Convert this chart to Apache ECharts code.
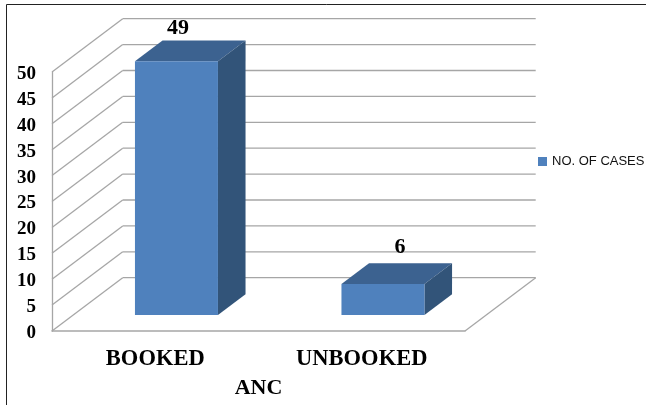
<!DOCTYPE html>
<html>
<head>
<meta charset="utf-8">
<style>
  html, body { margin: 0; padding: 0; background: #fff; }
  #chart { width: 646px; height: 405px; }
</style>
<script src="https://cdn.jsdelivr.net/npm/echarts@6/dist/echarts.min.js"></script>
</head>
<body>
<div id="chart"></div>
<script>
const categories = ['BOOKED', 'UNBOOKED']
const cases = [49, 6]
const yTicks = [0, 5, 10, 15, 20, 25, 30, 35, 40, 45, 50]

const serif = '"Liberation Serif", "Times New Roman", serif'
const gridColor = '#a6a6a6'

// fake 3d: how far the back wall sits from the axis plane, in pixels
const wallDepth = [70.7, -53.3]
const barStart = 0.3
const barDepth = 0.39
const barWidth = 83

function line(x1, y1, x2, y2) {
  return {
    type: 'line',
    shape: { x1, y1, x2, y2 },
    style: { stroke: gridColor, lineWidth: 1.3 },
  }
}

function renderWall(params, api) {
  const cs = params.coordSys
  const y = api.coord([0, api.value(1)])[1]
  const backX = cs.x + wallDepth[0]
  const backY = y + wallDepth[1]
  const children = [
    line(cs.x, y, backX, backY),
    line(backX, backY, cs.x + cs.width + wallDepth[0], backY),
  ]
  if (api.value(1) === 0) {
    children.push(line(cs.x + cs.width, y, cs.x + cs.width + wallDepth[0], backY))
  }
  return { type: 'group', children }
}

// the "49" label sits nearer the front of its bar than the "6" one
const labelShift = [[1.5, -33], [17, -37]]

function renderBar(params, api) {
  const i = api.value(0)
  const top = api.coord([i, api.value(1)])
  const base = api.coord([i, 0])
  const dx = wallDepth[0] * barStart
  const dy = wallDepth[1] * barStart
  const sx = wallDepth[0] * barDepth
  const sy = wallDepth[1] * barDepth
  const l = top[0] - barWidth / 2 + dx
  const r = l + barWidth
  const t = top[1] + dy
  const b = base[1] + dy
  return {
    type: 'group',
    children: [
      {
        type: 'polygon',
        shape: { points: [[l, t], [r, t], [r + sx, t + sy], [l + sx, t + sy]] },
        style: { fill: '#3c6290' },
      },
      {
        type: 'polygon',
        shape: { points: [[r, t], [r + sx, t + sy], [r + sx, b + sy], [r, b]] },
        style: { fill: '#325479' },
      },
      {
        type: 'rect',
        shape: { x: l, y: t, width: barWidth, height: b - t },
        style: { fill: '#4f81bd' },
      },
      {
        type: 'text',
        style: {
          x: (l + r) / 2 + labelShift[i][0],
          y: t + labelShift[i][1],
          text: String(api.value(1)),
          font: 'bold 22px ' + serif,
          fill: '#000',
          align: 'center',
          verticalAlign: 'middle',
        },
      },
    ],
  }
}

const chart = echarts.init(document.getElementById('chart'))

chart.setOption({
  animation: false,
  backgroundColor: '#fff',
  grid: { left: 52, top: 72, width: 413, height: 259, outerBoundsMode: 'none' },
  legend: {
    data: ['NO. OF CASES'],
    left: 538,
    top: 155,
    padding: 0,
    itemWidth: 9,
    itemHeight: 9,
    itemGap: 0,
    icon: 'rect',
    textStyle: {
      fontFamily: '"Liberation Sans", sans-serif',
      fontSize: 13,
      color: '#111',
    },
  },
  xAxis: {
    type: 'category',
    data: categories,
    name: 'ANC',
    nameLocation: 'middle',
    nameGap: 46,
    nameTextStyle: { fontFamily: serif, fontWeight: 'bold', fontSize: 22, color: '#000' },
    axisLine: { lineStyle: { color: gridColor, width: 1.5 } },
    axisTick: { show: false },
    axisLabel: { margin: 17, fontFamily: serif, fontWeight: 'bold', fontSize: 22.5, color: '#000' },
  },
  yAxis: {
    type: 'value',
    min: 0,
    max: 50,
    interval: 5,
    axisLine: { show: true, lineStyle: { color: gridColor, width: 1.3 } },
    axisTick: { show: false },
    splitLine: { show: false },
    axisLabel: {
      margin: 16,
      formatter: '{n|{value}}',
      rich: {
        n: {
          padding: [4, 0, 0, 0],
          fontFamily: serif,
          fontWeight: 'bold',
          fontSize: 19,
          color: '#000',
        },
      },
    },
  },
  series: [
    {
      type: 'custom',
      name: 'walls',
      silent: true,
      z: 1,
      renderItem: renderWall,
      encode: { x: 0, y: 1 },
      data: yTicks.map((t) => [0, t]),
    },
    {
      type: 'custom',
      name: 'NO. OF CASES',
      z: 2,
      itemStyle: { color: '#4f81bd' },
      renderItem: renderBar,
      encode: { x: 0, y: 1 },
      data: cases.map((v, i) => [i, v]),
    },
  ],
  graphic: [
    { type: 'line', shape: { x1: 6.5, y1: 4.5, x2: 646, y2: 4.5 }, style: { stroke: '#222', lineWidth: 1 } },
    { type: 'line', shape: { x1: 6.5, y1: 4.5, x2: 6.5, y2: 405 }, style: { stroke: '#222', lineWidth: 1 } },
  ],
})
</script>
</body>
</html>
